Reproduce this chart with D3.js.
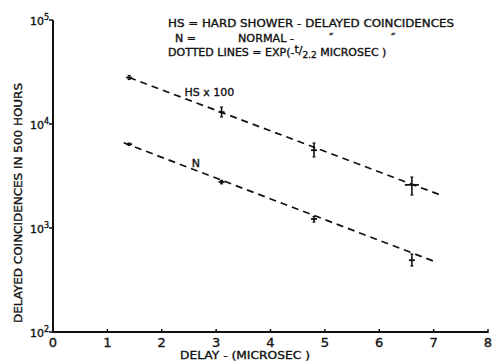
<!DOCTYPE html>
<html>
<head>
<meta charset="utf-8">
<script src="https://cdn.jsdelivr.net/npm/d3@7"></script>
<style>
  body { margin: 0; background: #fff; }
  svg text { font-family: "DejaVu Sans", sans-serif; fill: #111; stroke: #111; stroke-width: 0.35; }
</style>
</head>
<body>
<svg id="chart" width="492" height="362"></svg>
<script>
// data
const delays = [1.4, 3.1, 4.8, 6.6];
const hsValues = [28000, 13000, 5600, 2600];
const hsLow = [26800, 11700, 4820, 2075];
const hsHigh = [29300, 14550, 6560, 3090];
const nValues = [6400, 2770, 1220, 490];
const nLow = [6250, 2660, 1140, 431];
const nHigh = [6550, 2870, 1290, 562];
// fitted exp(-t/2.2) lines, end points
const hsFitT = [1.4, 7.1];
const hsFitV = [28000, 2100];
const nFitT = [1.3, 7.0];
const nFitV = [6600, 480];
const xTicks = [0, 1, 2, 3, 4, 5, 6, 7, 8];
const yTicks = [100, 1000, 10000, 100000];
const yTickExp = ['2', '3', '4', '5'];

const svg = d3.select('#chart');
const x = d3.scaleLinear().domain([0, 8]).range([53, 488]);
const y = d3.scaleLog().domain([100, 100000]).range([332, 20]);

// axes
svg.append('line')
  .attr('x1', x(0)).attr('x2', x(0))
  .attr('y1', y(100000)).attr('y2', y(100))
  .attr('stroke', '#111').attr('stroke-width', 2);
svg.append('line')
  .attr('x1', x(0)).attr('x2', x(8))
  .attr('y1', y(100)).attr('y2', y(100))
  .attr('stroke', '#111').attr('stroke-width', 2);

// x ticks + labels
svg.selectAll('line.xt')
  .data(xTicks)
  .enter()
  .append('line')
  .attr('class', 'xt')
  .attr('x1', d => x(d)).attr('x2', d => x(d))
  .attr('y1', y(100) - 3).attr('y2', y(100) + 1)
  .attr('stroke', '#111').attr('stroke-width', 1.5);
svg.selectAll('text.xl')
  .data(xTicks)
  .enter()
  .append('text')
  .attr('class', 'xl')
  .attr('x', d => x(d))
  .attr('y', y(100) + 15)
  .attr('text-anchor', 'middle')
  .style('font-size', '13px')
  .text(d => d);

// y ticks + labels
svg.selectAll('line.yt')
  .data(yTicks)
  .enter()
  .append('line')
  .attr('class', 'yt')
  .attr('x1', x(0) - 4).attr('x2', x(0))
  .attr('y1', d => y(d)).attr('y2', d => y(d))
  .attr('stroke', '#111').attr('stroke-width', 1.5);
const yl = svg.selectAll('text.yl')
  .data(yTicks)
  .enter()
  .append('text')
  .attr('class', 'yl')
  .attr('x', x(0) - 4)
  .attr('y', d => y(d) + 5)
  .attr('text-anchor', 'end')
  .style('font-size', '11px');
yl.append('tspan').text('10');
yl.append('tspan')
  .attr('dy', -5)
  .style('font-size', '8px')
  .text((d, i) => yTickExp[i]);

// fitted dashed lines
const fitLine = d3.line().x(d => x(d[0])).y(d => y(d[1]));
[[hsFitT, hsFitV], [nFitT, nFitV]].forEach(([t, v]) => {
  svg.append('path')
    .datum(t.map((d, i) => [d, v[i]]))
    .attr('fill', 'none')
    .attr('stroke', '#111')
    .attr('stroke-width', 1.7)
    .attr('stroke-dasharray', '7,5')
    .attr('d', fitLine);
});

// data points with error bars
function drawSeries(vals, lo, hi, hw) {
  const g = svg.append('g');
  g.selectAll('line.eb')
    .data(vals)
    .enter()
    .append('line')
    .attr('x1', (d, i) => x(delays[i])).attr('x2', (d, i) => x(delays[i]))
    .attr('y1', (d, i) => y(hi[i])).attr('y2', (d, i) => y(lo[i]))
    .attr('stroke', '#111').attr('stroke-width', 1.6);
  [lo, hi].forEach(arr => {
    g.selectAll(null)
      .data(arr)
      .enter()
      .append('line')
      .attr('x1', (d, i) => x(delays[i]) - 1.5).attr('x2', (d, i) => x(delays[i]) + 1.5)
      .attr('y1', d => y(d)).attr('y2', d => y(d))
      .attr('stroke', '#111').attr('stroke-width', 1.2);
  });
  g.selectAll(null)
    .data(vals)
    .enter()
    .append('line')
    .attr('x1', (d, i) => x(delays[i]) - hw[i]).attr('x2', (d, i) => x(delays[i]) + hw[i])
    .attr('y1', d => y(d)).attr('y2', d => y(d))
    .attr('stroke', '#111').attr('stroke-width', 1.8);
}
drawSeries(hsValues, hsLow, hsHigh, [3, 3, 3, 7]);
drawSeries(nValues, nLow, nHigh, [3, 3, 3, 3]);

// series labels
svg.append('text')
  .attr('x', x(2.42)).attr('y', y(18500))
  .style('font-size', '11px')
  .text('HS x 100');
svg.append('text')
  .attr('x', x(2.55)).attr('y', y(3900))
  .style('font-size', '11px')
  .text('N');

// key text
svg.append('text')
  .attr('x', 168).attr('y', 27)
  .attr('textLength', 286).attr('lengthAdjust', 'spacingAndGlyphs')
  .style('font-size', '11px')
  .text('HS = HARD SHOWER - DELAYED COINCIDENCES');
svg.append('text')
  .attr('x', 175).attr('y', 42)
  .style('font-size', '11px')
  .text('N =');
svg.append('text')
  .attr('x', 238).attr('y', 42)
  .attr('textLength', 56).attr('lengthAdjust', 'spacingAndGlyphs')
  .style('font-size', '11px')
  .text('NORMAL -');
svg.append('text').attr('x', 328).attr('y', 42).style('font-size', '11px').text('\u02DD');
svg.append('text').attr('x', 390).attr('y', 42).style('font-size', '11px').text('\u02DD');
const dl = svg.append('text')
  .attr('x', 168).attr('y', 56)
  .style('font-size', '11px');
dl.append('tspan').text('DOTTED LINES = EXP(-');
dl.append('tspan').attr('dy', -3).text('t');
dl.append('tspan').attr('dy', 1).text('/');
dl.append('tspan').attr('dy', 4).style('font-size', '9px').text('2.2');
dl.append('tspan').attr('dy', -2).text(' MICROSEC )');

// axis titles
svg.append('text')
  .attr('transform', `translate(22, ${(83 + 323) / 2}) rotate(-90)`)
  .attr('text-anchor', 'middle')
  .attr('textLength', 240).attr('lengthAdjust', 'spacingAndGlyphs')
  .style('font-size', '11px')
  .text('DELAYED COINCIDENCES IN 500 HOURS');
svg.append('text')
  .attr('x', 180).attr('y', 359)
  .attr('textLength', 130).attr('lengthAdjust', 'spacingAndGlyphs')
  .style('font-size', '11px')
  .text('DELAY - (MICROSEC )');
</script>
</body>
</html>
